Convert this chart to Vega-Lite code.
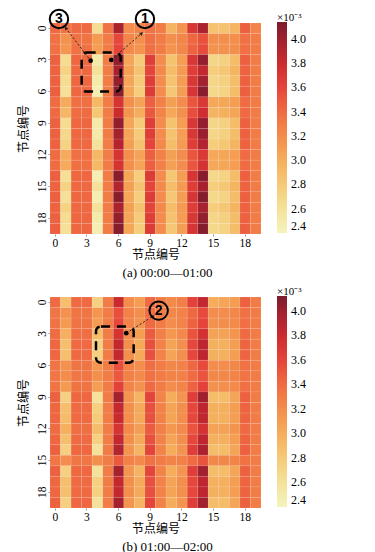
{
"$schema": "https://vega.github.io/schema/vega-lite/v6.json",
"padding": {"left": 17, "top": 5, "right": 5, "bottom": 2},
"spacing": 16,
"datasets": {
"a": [
{"r":0,"c":0,"v":3.4},{"r":0,"c":1,"v":3.35},{"r":0,"c":2,"v":3.4},{"r":0,"c":3,"v":3.4},{"r":0,"c":4,"v":2.65},{"r":0,"c":5,"v":3.35},{"r":0,"c":6,"v":3.95},{"r":0,"c":7,"v":3.2},{"r":0,"c":8,"v":3.25},{"r":0,"c":9,"v":3.35},{"r":0,"c":10,"v":3.3},{"r":0,"c":11,"v":2.95},{"r":0,"c":12,"v":3.15},{"r":0,"c":13,"v":3.7},{"r":0,"c":14,"v":3.95},{"r":0,"c":15,"v":2.85},{"r":0,"c":16,"v":2.85},{"r":0,"c":17,"v":2.95},{"r":0,"c":18,"v":3.45},{"r":0,"c":19,"v":3.25},
{"r":1,"c":0,"v":3.36},{"r":1,"c":1,"v":3.17},{"r":1,"c":2,"v":3.35},{"r":1,"c":3,"v":3.35},{"r":1,"c":4,"v":3.12},{"r":1,"c":5,"v":3.3},{"r":1,"c":6,"v":3.58},{"r":1,"c":7,"v":3.24},{"r":1,"c":8,"v":3.18},{"r":1,"c":9,"v":3.37},{"r":1,"c":10,"v":3.3},{"r":1,"c":11,"v":3.18},{"r":1,"c":12,"v":3.24},{"r":1,"c":13,"v":3.42},{"r":1,"c":14,"v":3.53},{"r":1,"c":15,"v":3.18},{"r":1,"c":16,"v":3.18},{"r":1,"c":17,"v":3.19},{"r":1,"c":18,"v":3.36},{"r":1,"c":19,"v":3.3},
{"r":2,"c":0,"v":3.37},{"r":2,"c":1,"v":3.14},{"r":2,"c":2,"v":3.36},{"r":2,"c":3,"v":3.36},{"r":2,"c":4,"v":3.1},{"r":2,"c":5,"v":3.3},{"r":2,"c":6,"v":3.6},{"r":2,"c":7,"v":3.22},{"r":2,"c":8,"v":3.16},{"r":2,"c":9,"v":3.38},{"r":2,"c":10,"v":3.3},{"r":2,"c":11,"v":3.16},{"r":2,"c":12,"v":3.23},{"r":2,"c":13,"v":3.44},{"r":2,"c":14,"v":3.56},{"r":2,"c":15,"v":3.16},{"r":2,"c":16,"v":3.17},{"r":2,"c":17,"v":3.18},{"r":2,"c":18,"v":3.37},{"r":2,"c":19,"v":3.3},
{"r":3,"c":0,"v":3.45},{"r":3,"c":1,"v":2.65},{"r":3,"c":2,"v":3.42},{"r":3,"c":3,"v":3.42},{"r":3,"c":4,"v":2.5},{"r":3,"c":5,"v":3.3},{"r":3,"c":6,"v":4.05},{"r":3,"c":7,"v":3.05},{"r":3,"c":8,"v":2.8},{"r":3,"c":9,"v":3.65},{"r":3,"c":10,"v":3.2},{"r":3,"c":11,"v":2.85},{"r":3,"c":12,"v":3.1},{"r":3,"c":13,"v":3.7},{"r":3,"c":14,"v":4.05},{"r":3,"c":15,"v":2.7},{"r":3,"c":16,"v":2.75},{"r":3,"c":17,"v":2.9},{"r":3,"c":18,"v":3.45},{"r":3,"c":19,"v":3.3},
{"r":4,"c":0,"v":3.44},{"r":4,"c":1,"v":2.73},{"r":4,"c":2,"v":3.41},{"r":4,"c":3,"v":3.41},{"r":4,"c":4,"v":2.6},{"r":4,"c":5,"v":3.3},{"r":4,"c":6,"v":3.97},{"r":4,"c":7,"v":3.08},{"r":4,"c":8,"v":2.86},{"r":4,"c":9,"v":3.6},{"r":4,"c":10,"v":3.22},{"r":4,"c":11,"v":2.9},{"r":4,"c":12,"v":3.12},{"r":4,"c":13,"v":3.65},{"r":4,"c":14,"v":3.85},{"r":4,"c":15,"v":2.78},{"r":4,"c":16,"v":2.82},{"r":4,"c":17,"v":2.95},{"r":4,"c":18,"v":3.44},{"r":4,"c":19,"v":3.3},
{"r":5,"c":0,"v":3.45},{"r":5,"c":1,"v":2.65},{"r":5,"c":2,"v":3.42},{"r":5,"c":3,"v":3.42},{"r":5,"c":4,"v":2.5},{"r":5,"c":5,"v":3.3},{"r":5,"c":6,"v":4.05},{"r":5,"c":7,"v":3.05},{"r":5,"c":8,"v":2.8},{"r":5,"c":9,"v":3.65},{"r":5,"c":10,"v":3.2},{"r":5,"c":11,"v":2.85},{"r":5,"c":12,"v":3.1},{"r":5,"c":13,"v":3.7},{"r":5,"c":14,"v":3.98},{"r":5,"c":15,"v":2.7},{"r":5,"c":16,"v":2.75},{"r":5,"c":17,"v":2.9},{"r":5,"c":18,"v":3.45},{"r":5,"c":19,"v":3.3},
{"r":6,"c":0,"v":3.46},{"r":6,"c":1,"v":2.62},{"r":6,"c":2,"v":3.42},{"r":6,"c":3,"v":3.42},{"r":6,"c":4,"v":2.47},{"r":6,"c":5,"v":3.3},{"r":6,"c":6,"v":4.08},{"r":6,"c":7,"v":3.04},{"r":6,"c":8,"v":2.78},{"r":6,"c":9,"v":3.67},{"r":6,"c":10,"v":3.2},{"r":6,"c":11,"v":2.83},{"r":6,"c":12,"v":3.09},{"r":6,"c":13,"v":3.72},{"r":6,"c":14,"v":4.08},{"r":6,"c":15,"v":2.68},{"r":6,"c":16,"v":2.73},{"r":6,"c":17,"v":2.89},{"r":6,"c":18,"v":3.46},{"r":6,"c":19,"v":3.3},
{"r":7,"c":0,"v":3.39},{"r":7,"c":1,"v":3.01},{"r":7,"c":2,"v":3.37},{"r":7,"c":3,"v":3.37},{"r":7,"c":4,"v":2.92},{"r":7,"c":5,"v":3.3},{"r":7,"c":6,"v":3.73},{"r":7,"c":7,"v":3.18},{"r":7,"c":8,"v":3.06},{"r":7,"c":9,"v":3.46},{"r":7,"c":10,"v":3.27},{"r":7,"c":11,"v":3.08},{"r":7,"c":12,"v":3.2},{"r":7,"c":13,"v":3.51},{"r":7,"c":14,"v":3.69},{"r":7,"c":15,"v":3.03},{"r":7,"c":16,"v":3.04},{"r":7,"c":17,"v":3.1},{"r":7,"c":18,"v":3.39},{"r":7,"c":19,"v":3.3},
{"r":8,"c":0,"v":3.4},{"r":8,"c":1,"v":2.93},{"r":8,"c":2,"v":3.39},{"r":8,"c":3,"v":3.39},{"r":8,"c":4,"v":2.83},{"r":8,"c":5,"v":3.3},{"r":8,"c":6,"v":3.8},{"r":8,"c":7,"v":3.15},{"r":8,"c":8,"v":3.0},{"r":8,"c":9,"v":3.5},{"r":8,"c":10,"v":3.25},{"r":8,"c":11,"v":3.03},{"r":8,"c":12,"v":3.18},{"r":8,"c":13,"v":3.55},{"r":8,"c":14,"v":3.78},{"r":8,"c":15,"v":2.95},{"r":8,"c":16,"v":2.98},{"r":8,"c":17,"v":3.05},{"r":8,"c":18,"v":3.4},{"r":8,"c":19,"v":3.3},
{"r":9,"c":0,"v":3.45},{"r":9,"c":1,"v":2.65},{"r":9,"c":2,"v":3.42},{"r":9,"c":3,"v":3.42},{"r":9,"c":4,"v":2.5},{"r":9,"c":5,"v":3.3},{"r":9,"c":6,"v":4.05},{"r":9,"c":7,"v":3.05},{"r":9,"c":8,"v":2.8},{"r":9,"c":9,"v":3.65},{"r":9,"c":10,"v":3.2},{"r":9,"c":11,"v":2.85},{"r":9,"c":12,"v":3.1},{"r":9,"c":13,"v":3.7},{"r":9,"c":14,"v":4.05},{"r":9,"c":15,"v":2.7},{"r":9,"c":16,"v":2.75},{"r":9,"c":17,"v":2.9},{"r":9,"c":18,"v":3.45},{"r":9,"c":19,"v":3.3},
{"r":10,"c":0,"v":3.45},{"r":10,"c":1,"v":2.68},{"r":10,"c":2,"v":3.42},{"r":10,"c":3,"v":3.42},{"r":10,"c":4,"v":2.52},{"r":10,"c":5,"v":3.3},{"r":10,"c":6,"v":3.98},{"r":10,"c":7,"v":3.05},{"r":10,"c":8,"v":2.8},{"r":10,"c":9,"v":3.65},{"r":10,"c":10,"v":3.2},{"r":10,"c":11,"v":2.85},{"r":10,"c":12,"v":3.1},{"r":10,"c":13,"v":3.7},{"r":10,"c":14,"v":4.02},{"r":10,"c":15,"v":2.7},{"r":10,"c":16,"v":2.75},{"r":10,"c":17,"v":2.9},{"r":10,"c":18,"v":3.45},{"r":10,"c":19,"v":3.3},
{"r":11,"c":0,"v":3.44},{"r":11,"c":1,"v":2.73},{"r":11,"c":2,"v":3.41},{"r":11,"c":3,"v":3.41},{"r":11,"c":4,"v":2.6},{"r":11,"c":5,"v":3.3},{"r":11,"c":6,"v":3.9},{"r":11,"c":7,"v":3.08},{"r":11,"c":8,"v":2.86},{"r":11,"c":9,"v":3.6},{"r":11,"c":10,"v":3.22},{"r":11,"c":11,"v":2.9},{"r":11,"c":12,"v":3.12},{"r":11,"c":13,"v":3.65},{"r":11,"c":14,"v":3.92},{"r":11,"c":15,"v":2.78},{"r":11,"c":16,"v":2.82},{"r":11,"c":17,"v":2.95},{"r":11,"c":18,"v":3.44},{"r":11,"c":19,"v":3.3},
{"r":12,"c":0,"v":3.39},{"r":12,"c":1,"v":3.01},{"r":12,"c":2,"v":3.37},{"r":12,"c":3,"v":3.37},{"r":12,"c":4,"v":2.92},{"r":12,"c":5,"v":3.3},{"r":12,"c":6,"v":3.73},{"r":12,"c":7,"v":3.18},{"r":12,"c":8,"v":3.06},{"r":12,"c":9,"v":3.46},{"r":12,"c":10,"v":3.27},{"r":12,"c":11,"v":3.08},{"r":12,"c":12,"v":3.2},{"r":12,"c":13,"v":3.51},{"r":12,"c":14,"v":3.69},{"r":12,"c":15,"v":3.03},{"r":12,"c":16,"v":3.04},{"r":12,"c":17,"v":3.1},{"r":12,"c":18,"v":3.39},{"r":12,"c":19,"v":3.3},
{"r":13,"c":0,"v":3.39},{"r":13,"c":1,"v":3.01},{"r":13,"c":2,"v":3.37},{"r":13,"c":3,"v":3.37},{"r":13,"c":4,"v":2.92},{"r":13,"c":5,"v":3.3},{"r":13,"c":6,"v":3.73},{"r":13,"c":7,"v":3.18},{"r":13,"c":8,"v":3.06},{"r":13,"c":9,"v":3.46},{"r":13,"c":10,"v":3.27},{"r":13,"c":11,"v":3.08},{"r":13,"c":12,"v":3.2},{"r":13,"c":13,"v":3.51},{"r":13,"c":14,"v":3.75},{"r":13,"c":15,"v":3.03},{"r":13,"c":16,"v":3.04},{"r":13,"c":17,"v":3.1},{"r":13,"c":18,"v":3.39},{"r":13,"c":19,"v":3.3},
{"r":14,"c":0,"v":3.46},{"r":14,"c":1,"v":2.62},{"r":14,"c":2,"v":3.42},{"r":14,"c":3,"v":3.42},{"r":14,"c":4,"v":2.47},{"r":14,"c":5,"v":3.3},{"r":14,"c":6,"v":4.08},{"r":14,"c":7,"v":3.04},{"r":14,"c":8,"v":2.78},{"r":14,"c":9,"v":3.67},{"r":14,"c":10,"v":3.2},{"r":14,"c":11,"v":2.83},{"r":14,"c":12,"v":3.09},{"r":14,"c":13,"v":3.72},{"r":14,"c":14,"v":4.08},{"r":14,"c":15,"v":2.68},{"r":14,"c":16,"v":2.73},{"r":14,"c":17,"v":2.89},{"r":14,"c":18,"v":3.46},{"r":14,"c":19,"v":3.3},
{"r":15,"c":0,"v":3.44},{"r":15,"c":1,"v":2.73},{"r":15,"c":2,"v":3.41},{"r":15,"c":3,"v":3.41},{"r":15,"c":4,"v":2.6},{"r":15,"c":5,"v":3.3},{"r":15,"c":6,"v":3.92},{"r":15,"c":7,"v":3.08},{"r":15,"c":8,"v":2.86},{"r":15,"c":9,"v":3.6},{"r":15,"c":10,"v":3.22},{"r":15,"c":11,"v":2.9},{"r":15,"c":12,"v":3.12},{"r":15,"c":13,"v":3.65},{"r":15,"c":14,"v":3.97},{"r":15,"c":15,"v":2.78},{"r":15,"c":16,"v":2.82},{"r":15,"c":17,"v":2.95},{"r":15,"c":18,"v":3.44},{"r":15,"c":19,"v":3.3},
{"r":16,"c":0,"v":3.46},{"r":16,"c":1,"v":2.62},{"r":16,"c":2,"v":3.42},{"r":16,"c":3,"v":3.42},{"r":16,"c":4,"v":2.47},{"r":16,"c":5,"v":3.3},{"r":16,"c":6,"v":4.08},{"r":16,"c":7,"v":3.04},{"r":16,"c":8,"v":2.78},{"r":16,"c":9,"v":3.67},{"r":16,"c":10,"v":3.2},{"r":16,"c":11,"v":2.83},{"r":16,"c":12,"v":3.09},{"r":16,"c":13,"v":3.72},{"r":16,"c":14,"v":4.1},{"r":16,"c":15,"v":2.68},{"r":16,"c":16,"v":2.73},{"r":16,"c":17,"v":2.89},{"r":16,"c":18,"v":3.46},{"r":16,"c":19,"v":3.3},
{"r":17,"c":0,"v":3.44},{"r":17,"c":1,"v":2.73},{"r":17,"c":2,"v":3.41},{"r":17,"c":3,"v":3.41},{"r":17,"c":4,"v":2.6},{"r":17,"c":5,"v":3.3},{"r":17,"c":6,"v":3.95},{"r":17,"c":7,"v":3.08},{"r":17,"c":8,"v":2.86},{"r":17,"c":9,"v":3.6},{"r":17,"c":10,"v":3.22},{"r":17,"c":11,"v":2.9},{"r":17,"c":12,"v":3.12},{"r":17,"c":13,"v":3.65},{"r":17,"c":14,"v":3.97},{"r":17,"c":15,"v":2.78},{"r":17,"c":16,"v":2.82},{"r":17,"c":17,"v":2.95},{"r":17,"c":18,"v":3.44},{"r":17,"c":19,"v":3.3},
{"r":18,"c":0,"v":3.45},{"r":18,"c":1,"v":2.65},{"r":18,"c":2,"v":3.42},{"r":18,"c":3,"v":3.42},{"r":18,"c":4,"v":2.5},{"r":18,"c":5,"v":3.3},{"r":18,"c":6,"v":4.05},{"r":18,"c":7,"v":3.05},{"r":18,"c":8,"v":2.8},{"r":18,"c":9,"v":3.65},{"r":18,"c":10,"v":3.2},{"r":18,"c":11,"v":2.85},{"r":18,"c":12,"v":3.1},{"r":18,"c":13,"v":3.7},{"r":18,"c":14,"v":4.05},{"r":18,"c":15,"v":2.7},{"r":18,"c":16,"v":2.75},{"r":18,"c":17,"v":2.9},{"r":18,"c":18,"v":3.45},{"r":18,"c":19,"v":3.3},
{"r":19,"c":0,"v":3.46},{"r":19,"c":1,"v":2.62},{"r":19,"c":2,"v":3.42},{"r":19,"c":3,"v":3.42},{"r":19,"c":4,"v":2.47},{"r":19,"c":5,"v":3.3},{"r":19,"c":6,"v":4.1},{"r":19,"c":7,"v":3.04},{"r":19,"c":8,"v":2.78},{"r":19,"c":9,"v":3.67},{"r":19,"c":10,"v":3.2},{"r":19,"c":11,"v":2.83},{"r":19,"c":12,"v":3.09},{"r":19,"c":13,"v":3.72},{"r":19,"c":14,"v":4.1},{"r":19,"c":15,"v":2.68},{"r":19,"c":16,"v":2.73},{"r":19,"c":17,"v":2.89},{"r":19,"c":18,"v":3.46},{"r":19,"c":19,"v":3.3}
],
"b": [
{"r":0,"c":0,"v":3.4},{"r":0,"c":1,"v":2.88},{"r":0,"c":2,"v":3.4},{"r":0,"c":3,"v":3.4},{"r":0,"c":4,"v":2.75},{"r":0,"c":5,"v":3.3},{"r":0,"c":6,"v":3.82},{"r":0,"c":7,"v":3.2},{"r":0,"c":8,"v":3.1},{"r":0,"c":9,"v":3.4},{"r":0,"c":10,"v":3.3},{"r":0,"c":11,"v":3.22},{"r":0,"c":12,"v":3.28},{"r":0,"c":13,"v":3.62},{"r":0,"c":14,"v":3.85},{"r":0,"c":15,"v":3.0},{"r":0,"c":16,"v":3.05},{"r":0,"c":17,"v":3.1},{"r":0,"c":18,"v":3.45},{"r":0,"c":19,"v":3.3},
{"r":1,"c":0,"v":3.34},{"r":1,"c":1,"v":3.17},{"r":1,"c":2,"v":3.34},{"r":1,"c":3,"v":3.34},{"r":1,"c":4,"v":3.14},{"r":1,"c":5,"v":3.3},{"r":1,"c":6,"v":3.55},{"r":1,"c":7,"v":3.26},{"r":1,"c":8,"v":3.19},{"r":1,"c":9,"v":3.38},{"r":1,"c":10,"v":3.3},{"r":1,"c":11,"v":3.23},{"r":1,"c":12,"v":3.26},{"r":1,"c":13,"v":3.41},{"r":1,"c":14,"v":3.57},{"r":1,"c":15,"v":3.2},{"r":1,"c":16,"v":3.2},{"r":1,"c":17,"v":3.23},{"r":1,"c":18,"v":3.36},{"r":1,"c":19,"v":3.3},
{"r":2,"c":0,"v":3.35},{"r":2,"c":1,"v":3.12},{"r":2,"c":2,"v":3.35},{"r":2,"c":3,"v":3.35},{"r":2,"c":4,"v":3.1},{"r":2,"c":5,"v":3.3},{"r":2,"c":6,"v":3.58},{"r":2,"c":7,"v":3.25},{"r":2,"c":8,"v":3.17},{"r":2,"c":9,"v":3.4},{"r":2,"c":10,"v":3.3},{"r":2,"c":11,"v":3.2},{"r":2,"c":12,"v":3.25},{"r":2,"c":13,"v":3.44},{"r":2,"c":14,"v":3.6},{"r":2,"c":15,"v":3.17},{"r":2,"c":16,"v":3.18},{"r":2,"c":17,"v":3.22},{"r":2,"c":18,"v":3.37},{"r":2,"c":19,"v":3.3},
{"r":3,"c":0,"v":3.39},{"r":3,"c":1,"v":2.99},{"r":3,"c":2,"v":3.38},{"r":3,"c":3,"v":3.38},{"r":3,"c":4,"v":2.9},{"r":3,"c":5,"v":3.3},{"r":3,"c":6,"v":3.73},{"r":3,"c":7,"v":3.21},{"r":3,"c":8,"v":3.09},{"r":3,"c":9,"v":3.48},{"r":3,"c":10,"v":3.28},{"r":3,"c":11,"v":3.13},{"r":3,"c":12,"v":3.21},{"r":3,"c":13,"v":3.52},{"r":3,"c":14,"v":3.75},{"r":3,"c":15,"v":3.07},{"r":3,"c":16,"v":3.07},{"r":3,"c":17,"v":3.15},{"r":3,"c":18,"v":3.4},{"r":3,"c":19,"v":3.3},
{"r":4,"c":0,"v":3.42},{"r":4,"c":1,"v":2.87},{"r":4,"c":2,"v":3.4},{"r":4,"c":3,"v":3.4},{"r":4,"c":4,"v":2.75},{"r":4,"c":5,"v":3.3},{"r":4,"c":6,"v":3.84},{"r":4,"c":7,"v":3.18},{"r":4,"c":8,"v":3.02},{"r":4,"c":9,"v":3.54},{"r":4,"c":10,"v":3.26},{"r":4,"c":11,"v":3.06},{"r":4,"c":12,"v":3.18},{"r":4,"c":13,"v":3.58},{"r":4,"c":14,"v":3.87},{"r":4,"c":15,"v":2.98},{"r":4,"c":16,"v":2.98},{"r":4,"c":17,"v":3.1},{"r":4,"c":18,"v":3.43},{"r":4,"c":19,"v":3.3},
{"r":5,"c":0,"v":3.42},{"r":5,"c":1,"v":2.87},{"r":5,"c":2,"v":3.4},{"r":5,"c":3,"v":3.4},{"r":5,"c":4,"v":2.75},{"r":5,"c":5,"v":3.3},{"r":5,"c":6,"v":3.84},{"r":5,"c":7,"v":3.18},{"r":5,"c":8,"v":3.02},{"r":5,"c":9,"v":3.54},{"r":5,"c":10,"v":3.26},{"r":5,"c":11,"v":3.06},{"r":5,"c":12,"v":3.18},{"r":5,"c":13,"v":3.58},{"r":5,"c":14,"v":3.87},{"r":5,"c":15,"v":2.98},{"r":5,"c":16,"v":2.98},{"r":5,"c":17,"v":3.1},{"r":5,"c":18,"v":3.43},{"r":5,"c":19,"v":3.3},
{"r":6,"c":0,"v":3.34},{"r":6,"c":1,"v":3.17},{"r":6,"c":2,"v":3.34},{"r":6,"c":3,"v":3.34},{"r":6,"c":4,"v":3.14},{"r":6,"c":5,"v":3.3},{"r":6,"c":6,"v":3.55},{"r":6,"c":7,"v":3.26},{"r":6,"c":8,"v":3.19},{"r":6,"c":9,"v":3.38},{"r":6,"c":10,"v":3.3},{"r":6,"c":11,"v":3.23},{"r":6,"c":12,"v":3.26},{"r":6,"c":13,"v":3.41},{"r":6,"c":14,"v":3.57},{"r":6,"c":15,"v":3.2},{"r":6,"c":16,"v":3.2},{"r":6,"c":17,"v":3.23},{"r":6,"c":18,"v":3.36},{"r":6,"c":19,"v":3.3},
{"r":7,"c":0,"v":3.33},{"r":7,"c":1,"v":3.2},{"r":7,"c":2,"v":3.33},{"r":7,"c":3,"v":3.33},{"r":7,"c":4,"v":3.18},{"r":7,"c":5,"v":3.3},{"r":7,"c":6,"v":3.5},{"r":7,"c":7,"v":3.27},{"r":7,"c":8,"v":3.22},{"r":7,"c":9,"v":3.36},{"r":7,"c":10,"v":3.3},{"r":7,"c":11,"v":3.25},{"r":7,"c":12,"v":3.27},{"r":7,"c":13,"v":3.39},{"r":7,"c":14,"v":3.52},{"r":7,"c":15,"v":3.23},{"r":7,"c":16,"v":3.23},{"r":7,"c":17,"v":3.25},{"r":7,"c":18,"v":3.35},{"r":7,"c":19,"v":3.3},
{"r":8,"c":0,"v":3.35},{"r":8,"c":1,"v":3.12},{"r":8,"c":2,"v":3.35},{"r":8,"c":3,"v":3.35},{"r":8,"c":4,"v":3.1},{"r":8,"c":5,"v":3.3},{"r":8,"c":6,"v":3.62},{"r":8,"c":7,"v":3.25},{"r":8,"c":8,"v":3.17},{"r":8,"c":9,"v":3.4},{"r":8,"c":10,"v":3.3},{"r":8,"c":11,"v":3.2},{"r":8,"c":12,"v":3.25},{"r":8,"c":13,"v":3.44},{"r":8,"c":14,"v":3.62},{"r":8,"c":15,"v":3.17},{"r":8,"c":16,"v":3.18},{"r":8,"c":17,"v":3.22},{"r":8,"c":18,"v":3.37},{"r":8,"c":19,"v":3.3},
{"r":9,"c":0,"v":3.45},{"r":9,"c":1,"v":2.75},{"r":9,"c":2,"v":3.42},{"r":9,"c":3,"v":3.42},{"r":9,"c":4,"v":2.6},{"r":9,"c":5,"v":3.3},{"r":9,"c":6,"v":3.98},{"r":9,"c":7,"v":3.15},{"r":9,"c":8,"v":2.95},{"r":9,"c":9,"v":3.6},{"r":9,"c":10,"v":3.25},{"r":9,"c":11,"v":3.0},{"r":9,"c":12,"v":3.15},{"r":9,"c":13,"v":3.65},{"r":9,"c":14,"v":4.0},{"r":9,"c":15,"v":2.9},{"r":9,"c":16,"v":2.9},{"r":9,"c":17,"v":3.05},{"r":9,"c":18,"v":3.45},{"r":9,"c":19,"v":3.3},
{"r":10,"c":0,"v":3.42},{"r":10,"c":1,"v":2.87},{"r":10,"c":2,"v":3.4},{"r":10,"c":3,"v":3.4},{"r":10,"c":4,"v":2.75},{"r":10,"c":5,"v":3.3},{"r":10,"c":6,"v":3.84},{"r":10,"c":7,"v":3.18},{"r":10,"c":8,"v":3.02},{"r":10,"c":9,"v":3.54},{"r":10,"c":10,"v":3.26},{"r":10,"c":11,"v":3.06},{"r":10,"c":12,"v":3.18},{"r":10,"c":13,"v":3.58},{"r":10,"c":14,"v":3.87},{"r":10,"c":15,"v":2.98},{"r":10,"c":16,"v":2.98},{"r":10,"c":17,"v":3.1},{"r":10,"c":18,"v":3.43},{"r":10,"c":19,"v":3.3},
{"r":11,"c":0,"v":3.42},{"r":11,"c":1,"v":2.9},{"r":11,"c":2,"v":3.4},{"r":11,"c":3,"v":3.4},{"r":11,"c":4,"v":2.8},{"r":11,"c":5,"v":3.3},{"r":11,"c":6,"v":3.82},{"r":11,"c":7,"v":3.18},{"r":11,"c":8,"v":3.02},{"r":11,"c":9,"v":3.54},{"r":11,"c":10,"v":3.26},{"r":11,"c":11,"v":3.06},{"r":11,"c":12,"v":3.18},{"r":11,"c":13,"v":3.58},{"r":11,"c":14,"v":3.86},{"r":11,"c":15,"v":2.98},{"r":11,"c":16,"v":2.98},{"r":11,"c":17,"v":3.1},{"r":11,"c":18,"v":3.43},{"r":11,"c":19,"v":3.3},
{"r":12,"c":0,"v":3.39},{"r":12,"c":1,"v":2.99},{"r":12,"c":2,"v":3.38},{"r":12,"c":3,"v":3.38},{"r":12,"c":4,"v":2.9},{"r":12,"c":5,"v":3.3},{"r":12,"c":6,"v":3.73},{"r":12,"c":7,"v":3.21},{"r":12,"c":8,"v":3.09},{"r":12,"c":9,"v":3.48},{"r":12,"c":10,"v":3.28},{"r":12,"c":11,"v":3.13},{"r":12,"c":12,"v":3.21},{"r":12,"c":13,"v":3.52},{"r":12,"c":14,"v":3.75},{"r":12,"c":15,"v":3.07},{"r":12,"c":16,"v":3.07},{"r":12,"c":17,"v":3.15},{"r":12,"c":18,"v":3.4},{"r":12,"c":19,"v":3.3},
{"r":13,"c":0,"v":3.42},{"r":13,"c":1,"v":2.87},{"r":13,"c":2,"v":3.4},{"r":13,"c":3,"v":3.4},{"r":13,"c":4,"v":2.75},{"r":13,"c":5,"v":3.3},{"r":13,"c":6,"v":3.84},{"r":13,"c":7,"v":3.18},{"r":13,"c":8,"v":3.02},{"r":13,"c":9,"v":3.54},{"r":13,"c":10,"v":3.26},{"r":13,"c":11,"v":3.06},{"r":13,"c":12,"v":3.18},{"r":13,"c":13,"v":3.58},{"r":13,"c":14,"v":3.87},{"r":13,"c":15,"v":2.98},{"r":13,"c":16,"v":2.98},{"r":13,"c":17,"v":3.1},{"r":13,"c":18,"v":3.43},{"r":13,"c":19,"v":3.3},
{"r":14,"c":0,"v":3.45},{"r":14,"c":1,"v":2.75},{"r":14,"c":2,"v":3.42},{"r":14,"c":3,"v":3.42},{"r":14,"c":4,"v":2.6},{"r":14,"c":5,"v":3.3},{"r":14,"c":6,"v":3.92},{"r":14,"c":7,"v":3.15},{"r":14,"c":8,"v":2.95},{"r":14,"c":9,"v":3.6},{"r":14,"c":10,"v":3.25},{"r":14,"c":11,"v":3.0},{"r":14,"c":12,"v":3.15},{"r":14,"c":13,"v":3.65},{"r":14,"c":14,"v":3.95},{"r":14,"c":15,"v":2.9},{"r":14,"c":16,"v":2.9},{"r":14,"c":17,"v":3.05},{"r":14,"c":18,"v":3.45},{"r":14,"c":19,"v":3.3},
{"r":15,"c":0,"v":3.33},{"r":15,"c":1,"v":3.2},{"r":15,"c":2,"v":3.33},{"r":15,"c":3,"v":3.33},{"r":15,"c":4,"v":3.18},{"r":15,"c":5,"v":3.3},{"r":15,"c":6,"v":3.5},{"r":15,"c":7,"v":3.27},{"r":15,"c":8,"v":3.22},{"r":15,"c":9,"v":3.36},{"r":15,"c":10,"v":3.3},{"r":15,"c":11,"v":3.25},{"r":15,"c":12,"v":3.27},{"r":15,"c":13,"v":3.39},{"r":15,"c":14,"v":3.52},{"r":15,"c":15,"v":3.23},{"r":15,"c":16,"v":3.23},{"r":15,"c":17,"v":3.25},{"r":15,"c":18,"v":3.35},{"r":15,"c":19,"v":3.3},
{"r":16,"c":0,"v":3.45},{"r":16,"c":1,"v":2.75},{"r":16,"c":2,"v":3.42},{"r":16,"c":3,"v":3.42},{"r":16,"c":4,"v":2.6},{"r":16,"c":5,"v":3.3},{"r":16,"c":6,"v":3.98},{"r":16,"c":7,"v":3.15},{"r":16,"c":8,"v":2.95},{"r":16,"c":9,"v":3.6},{"r":16,"c":10,"v":3.25},{"r":16,"c":11,"v":3.0},{"r":16,"c":12,"v":3.15},{"r":16,"c":13,"v":3.65},{"r":16,"c":14,"v":4.0},{"r":16,"c":15,"v":2.9},{"r":16,"c":16,"v":2.9},{"r":16,"c":17,"v":3.05},{"r":16,"c":18,"v":3.45},{"r":16,"c":19,"v":3.3},
{"r":17,"c":0,"v":3.42},{"r":17,"c":1,"v":2.87},{"r":17,"c":2,"v":3.4},{"r":17,"c":3,"v":3.4},{"r":17,"c":4,"v":2.75},{"r":17,"c":5,"v":3.3},{"r":17,"c":6,"v":3.84},{"r":17,"c":7,"v":3.18},{"r":17,"c":8,"v":3.02},{"r":17,"c":9,"v":3.54},{"r":17,"c":10,"v":3.26},{"r":17,"c":11,"v":3.06},{"r":17,"c":12,"v":3.18},{"r":17,"c":13,"v":3.58},{"r":17,"c":14,"v":3.87},{"r":17,"c":15,"v":2.98},{"r":17,"c":16,"v":2.98},{"r":17,"c":17,"v":3.1},{"r":17,"c":18,"v":3.43},{"r":17,"c":19,"v":3.3},
{"r":18,"c":0,"v":3.42},{"r":18,"c":1,"v":2.87},{"r":18,"c":2,"v":3.4},{"r":18,"c":3,"v":3.4},{"r":18,"c":4,"v":2.75},{"r":18,"c":5,"v":3.3},{"r":18,"c":6,"v":3.84},{"r":18,"c":7,"v":3.18},{"r":18,"c":8,"v":3.02},{"r":18,"c":9,"v":3.54},{"r":18,"c":10,"v":3.26},{"r":18,"c":11,"v":3.06},{"r":18,"c":12,"v":3.18},{"r":18,"c":13,"v":3.58},{"r":18,"c":14,"v":3.87},{"r":18,"c":15,"v":2.98},{"r":18,"c":16,"v":2.98},{"r":18,"c":17,"v":3.1},{"r":18,"c":18,"v":3.43},{"r":18,"c":19,"v":3.3},
{"r":19,"c":0,"v":3.45},{"r":19,"c":1,"v":2.75},{"r":19,"c":2,"v":3.42},{"r":19,"c":3,"v":3.42},{"r":19,"c":4,"v":2.6},{"r":19,"c":5,"v":3.3},{"r":19,"c":6,"v":3.98},{"r":19,"c":7,"v":3.15},{"r":19,"c":8,"v":2.95},{"r":19,"c":9,"v":3.6},{"r":19,"c":10,"v":3.25},{"r":19,"c":11,"v":3.0},{"r":19,"c":12,"v":3.15},{"r":19,"c":13,"v":3.65},{"r":19,"c":14,"v":4.0},{"r":19,"c":15,"v":2.9},{"r":19,"c":16,"v":2.9},{"r":19,"c":17,"v":3.05},{"r":19,"c":18,"v":3.45},{"r":19,"c":19,"v":3.3}
],
"boxA": [{"x1":3.0,"x2":6.7,"y1":2.8,"y2":6.5}],
"dotsA": [{"x":3.85,"y":3.57},{"x":5.81,"y":3.5}],
"arrowsA": [{"id":1,"head":0,"x":3.85,"y":3.57},{"id":1,"head":1,"x":1.49,"y":0.47},{"id":2,"head":0,"x":5.81,"y":3.5},{"id":2,"head":1,"x":8.69,"y":0.98}],
"circlesA": [{"x":0.85,"y":-0.38,"t":"3"},{"x":9.0,"y":-0.38,"t":"1"}],
"boxB": [{"x1":4.36,"x2":7.93,"y1":2.8,"y2":6.23}],
"dotsB": [{"x":7.23,"y":3.43}],
"arrowsB": [{"id":3,"head":0,"x":7.23,"y":3.43},{"id":3,"head":1,"x":9.76,"y":1.82}],
"circlesB": [{"x":10.3,"y":1.29,"t":"2"}]
},
"vconcat": [
{
"width": 211, "height": 211,
"title": {"text": "(a) 00:00—01:00", "orient": "bottom", "anchor": "middle", "dx": 12, "offset": 6, "fontSize": 13, "font": "Liberation Serif", "fontWeight": "normal", "color": "black"},
"layer": [
{"data": {"name": "a"},
 "mark": {"type": "rect", "stroke": "white", "strokeWidth": 0.4, "strokeOpacity": 0.2},
 "encoding": {
  "x": {"field": "c", "type": "ordinal", "title": "节点编号", "axis": {"values": [0,3,6,9,12,15,18], "labelAngle": 0}},
  "y": {"field": "r", "type": "ordinal", "title": "节点编号", "axis": {"values": [0,3,6,9,12,15,18], "labelAngle": -90}},
  "color": {"field": "v", "type": "quantitative",
   "scale": {"domain": [2.4, 2.6, 2.8, 3.0, 3.2, 3.4, 3.6, 3.8, 4.0, 4.14], "range": ["#f6f3bd", "#f4e29a", "#f5ca78", "#f5ad5c", "#f38c4c", "#ef6a42", "#e4443a", "#cc2b2e", "#a0202e", "#7a1c2c"]},
   "legend": {"title": "×10⁻³", "orient": "right", "offset": 16, "gradientLength": 211, "gradientThickness": 10, "values": [2.4,2.6,2.8,3.0,3.2,3.4,3.6,3.8,4.0], "format": ".1f", "labelFont": "Liberation Serif", "labelFontSize": 12, "labelColor": "black", "labelOffset": 4, "labelOverlap": false, "labelBaseline": "middle", "titleFont": "Liberation Serif", "titleFontSize": 11, "titleFontWeight": "normal", "titleColor": "black", "titleBaseline": "bottom", "titlePadding": -12, "padding": 0, "gradientStrokeWidth": 0}}
 }},
{"layer": [
 {"data": {"name": "boxA"}, "mark": {"type": "rect", "fill": "transparent", "stroke": "black", "strokeWidth": 2.5, "strokeDash": [9,7], "cornerRadius": 5},
  "encoding": {"x": {"field": "x1", "type": "quantitative", "scale": {"domain": [0,20], "nice": false, "zero": false}, "axis": null}, "x2": {"field": "x2"},
   "y": {"field": "y1", "type": "quantitative", "scale": {"domain": [0,20], "nice": false, "zero": false, "reverse": true}, "axis": null}, "y2": {"field": "y2"}}},
 {"data": {"name": "arrowsA"}, "mark": {"type": "line", "stroke": "#222", "strokeWidth": 1, "strokeDash": [2,2]},
  "encoding": {"x": {"field": "x", "type": "quantitative"}, "y": {"field": "y", "type": "quantitative"}, "detail": {"field": "id"}}},
 {"data": {"name": "arrowsA"}, "transform": [{"filter": "datum.head == 1 && datum.id == 1"}], "mark": {"type": "point", "shape": "triangle-up", "filled": true, "color": "#222", "size": 16, "angle": -37, "opacity": 1},
  "encoding": {"x": {"field": "x", "type": "quantitative"}, "y": {"field": "y", "type": "quantitative"}}},
 {"data": {"name": "arrowsA"}, "transform": [{"filter": "datum.head == 1 && datum.id == 2"}], "mark": {"type": "point", "shape": "triangle-up", "filled": true, "color": "#222", "size": 16, "angle": 49, "opacity": 1},
  "encoding": {"x": {"field": "x", "type": "quantitative"}, "y": {"field": "y", "type": "quantitative"}}},
 {"data": {"name": "dotsA"}, "mark": {"type": "point", "shape": "circle", "filled": true, "color": "black", "size": 22, "opacity": 1},
  "encoding": {"x": {"field": "x", "type": "quantitative"}, "y": {"field": "y", "type": "quantitative"}}},
 {"data": {"name": "circlesA"}, "mark": {"type": "point", "shape": "circle", "filled": false, "stroke": "black", "strokeWidth": 2, "size": 340, "opacity": 1},
  "encoding": {"x": {"field": "x", "type": "quantitative"}, "y": {"field": "y", "type": "quantitative"}}},
 {"data": {"name": "circlesA"}, "mark": {"type": "text", "font": "Liberation Sans", "fontWeight": "bold", "fontSize": 14, "color": "black", "baseline": "middle", "align": "center"},
  "encoding": {"x": {"field": "x", "type": "quantitative"}, "y": {"field": "y", "type": "quantitative"}, "text": {"field": "t"}}}
]}
],
"resolve": {"scale": {"x": "independent", "y": "independent"}}
},
{
"width": 211, "height": 211,
"title": {"text": "(b) 01:00—02:00", "orient": "bottom", "anchor": "middle", "dx": 12, "offset": 6, "fontSize": 13, "font": "Liberation Serif", "fontWeight": "normal", "color": "black"},
"layer": [
{"data": {"name": "b"},
 "mark": {"type": "rect", "stroke": "white", "strokeWidth": 0.4, "strokeOpacity": 0.2},
 "encoding": {
  "x": {"field": "c", "type": "ordinal", "title": "节点编号", "axis": {"values": [0,3,6,9,12,15,18], "labelAngle": 0}},
  "y": {"field": "r", "type": "ordinal", "title": "节点编号", "axis": {"values": [0,3,6,9,12,15,18], "labelAngle": -90}},
  "color": {"field": "v", "type": "quantitative",
   "scale": {"domain": [2.4, 2.6, 2.8, 3.0, 3.2, 3.4, 3.6, 3.8, 4.0, 4.12], "range": ["#f6f3bd", "#f4e29a", "#f5ca78", "#f5ad5c", "#f38c4c", "#ef6a42", "#e4443a", "#cc2b2e", "#a0202e", "#7a1c2c"]},
   "legend": {"title": "×10⁻³", "orient": "right", "offset": 16, "gradientLength": 211, "gradientThickness": 10, "values": [2.4,2.6,2.8,3.0,3.2,3.4,3.6,3.8,4.0], "format": ".1f", "labelFont": "Liberation Serif", "labelFontSize": 12, "labelColor": "black", "labelOffset": 4, "labelOverlap": false, "labelBaseline": "middle", "titleFont": "Liberation Serif", "titleFontSize": 11, "titleFontWeight": "normal", "titleColor": "black", "titleBaseline": "bottom", "titlePadding": -12, "padding": 0, "gradientStrokeWidth": 0}}
 }},
{"layer": [
 {"data": {"name": "boxB"}, "mark": {"type": "rect", "fill": "transparent", "stroke": "black", "strokeWidth": 2.5, "strokeDash": [9,7], "cornerRadius": 5},
  "encoding": {"x": {"field": "x1", "type": "quantitative", "scale": {"domain": [0,20], "nice": false, "zero": false}, "axis": null}, "x2": {"field": "x2"},
   "y": {"field": "y1", "type": "quantitative", "scale": {"domain": [0,20], "nice": false, "zero": false, "reverse": true}, "axis": null}, "y2": {"field": "y2"}}},
 {"data": {"name": "arrowsB"}, "mark": {"type": "line", "stroke": "#222", "strokeWidth": 1, "strokeDash": [2,2]},
  "encoding": {"x": {"field": "x", "type": "quantitative"}, "y": {"field": "y", "type": "quantitative"}, "detail": {"field": "id"}}},
 {"data": {"name": "arrowsB"}, "transform": [{"filter": "datum.head == 1"}], "mark": {"type": "point", "shape": "triangle-up", "filled": true, "color": "#222", "size": 16, "angle": 57, "opacity": 1},
  "encoding": {"x": {"field": "x", "type": "quantitative"}, "y": {"field": "y", "type": "quantitative"}}},
 {"data": {"name": "dotsB"}, "mark": {"type": "point", "shape": "circle", "filled": true, "color": "black", "size": 22, "opacity": 1},
  "encoding": {"x": {"field": "x", "type": "quantitative"}, "y": {"field": "y", "type": "quantitative"}}},
 {"data": {"name": "circlesB"}, "mark": {"type": "point", "shape": "circle", "filled": false, "stroke": "black", "strokeWidth": 2, "size": 340, "opacity": 1},
  "encoding": {"x": {"field": "x", "type": "quantitative"}, "y": {"field": "y", "type": "quantitative"}}},
 {"data": {"name": "circlesB"}, "mark": {"type": "text", "font": "Liberation Sans", "fontWeight": "bold", "fontSize": 14, "color": "black", "baseline": "middle", "align": "center"},
  "encoding": {"x": {"field": "x", "type": "quantitative"}, "y": {"field": "y", "type": "quantitative"}, "text": {"field": "t"}}}
]}
],
"resolve": {"scale": {"x": "independent", "y": "independent"}}
}
],
"resolve": {"scale": {"color": "independent"}},
"config": {
 "view": {"stroke": null},
 "font": "Liberation Serif",
 "axis": {"domain": false, "grid": false, "ticks": true, "tickSize": 2, "tickColor": "#999", "labelFont": "Liberation Serif", "labelFontSize": 11.5, "labelColor": "black", "labelPadding": 1, "titleFont": "Liberation Serif, Noto Sans CJK SC", "titleFontSize": 12, "titleFontWeight": "normal", "titleColor": "black", "titlePadding": 1},
 "axisY": {"titlePadding": 6}
}
}
